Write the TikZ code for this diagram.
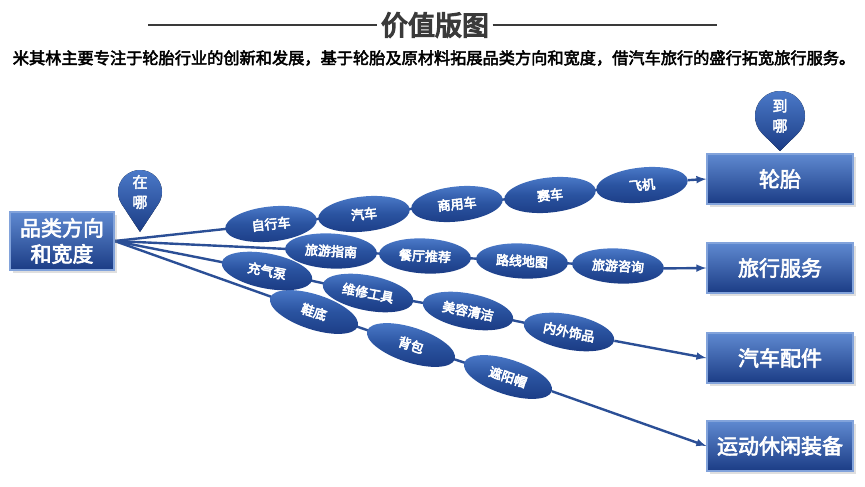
\documentclass[tikz,border=0pt]{standalone}
\usepackage{fontspec}
\setmainfont{Noto Sans CJK SC}[FakeBold=3]
\newfontfamily\heavy{Noto Sans CJK SC}[FakeBold=5]
\newfontfamily\ovalfont{Noto Sans CJK SC}[FakeBold=4]
\usetikzlibrary{shapes.geometric,backgrounds,calc,shadows}

\definecolor{deepblue}{HTML}{2A53A0}
\definecolor{lightblue}{HTML}{4D7CCB}
\definecolor{darkblue}{HTML}{1B3C85}
\definecolor{linkblue}{HTML}{2B4F96}
\definecolor{titlegray}{HTML}{3A3A3A}

\begin{document}
\begin{tikzpicture}[x=1pt,y=-1pt,
    oval/.style={ellipse,minimum width=92pt,minimum height=35pt,inner sep=0pt,
        top color=lightblue,bottom color=darkblue,middle color=deepblue,
        text=white,font=\ovalfont\fontsize{13}{14}\selectfont},
    goal/.style={rectangle,minimum width=146pt,minimum height=50pt,
        top color=lightblue!90,bottom color=darkblue,draw=lightblue!70,line width=1.2pt,
        text=white,font=\fontsize{21}{23}\selectfont,drop shadow={opacity=0.25}},
    link/.style={linkblue,line width=2.4pt},
    pin/.style={top color=lightblue,bottom color=darkblue}]

    \useasboundingbox (0,0) rectangle (865,487);

    % title and subtitle
    \node[text=titlegray,font=\heavy\fontsize{27}{29}\selectfont] (title) at (435,25) {价值版图};
    \draw[titlegray,line width=1.5pt] (148,25) -- (title.west);
    \draw[titlegray,line width=1.5pt] (title.east) -- (717,25);
    \node[font=\fontsize{16.2}{17}\selectfont] (sub) at (434,58)
        {米其林主要专注于轮胎行业的创新和发展，基于轮胎及原材料拓展品类方向和宽度，借汽车旅行的盛行拓宽旅行服务。};

    % start box
    \node[goal,minimum width=104pt,minimum height=58pt,align=center,
        font=\fontsize{21}{26}\selectfont] (start) at (62,241) {品类方向\\和宽度};

    % goal boxes
    \node[goal] (tyre) at (780,179) {轮胎};
    \node[goal] (trip) at (780,268) {旅行服务};
    \node[goal] (part) at (780,358) {汽车配件};
    \node[goal] (sport) at (780,446) {运动休闲装备};

    % the pins
    \coordinate (pinA) at (140,192);
    \fill[pin] (140,232) -- ($(pinA)+(147:22)$) arc[start angle=147,end angle=393,radius=22] -- cycle;
    \node[text=white,align=center,font=\fontsize{15}{20}\selectfont] (where) at (pinA) {在\\哪};
    \coordinate (pinB) at (780,116);
    \fill[pin] (780,151) -- ($(pinB)+(135:25)$) arc[start angle=135,end angle=405,radius=25] -- cycle;
    \node[text=white,align=center,font=\fontsize{15}{20}\selectfont] (whither) at (pinB) {到\\哪};

    % ovals, row by row
    \foreach \n/\t/\x/\y/\r in {
        d1/鞋底/314/312/-18, d2/背包/411/345/-18, d3/遮阳帽/508/377/-18,
        c1/充气泵/267/271/-11, c2/维修工具/368/293/-11, c3/美容清洁/468/311/-11, c4/内外饰品/569/332/-11,
        a1/自行车/271/224/6, a2/汽车/364/214/6, a3/商用车/457/204/6, a4/赛车/550/195/6, a5/飞机/642/185/6,
        b1/旅游指南/331/251/-3, b2/餐厅推荐/425/256/-3, b3/路线地图/522/261/-3, b4/旅游咨询/618/266/-3} {
        \node[oval,rotate=\r] (\n) at (\x,\y) {\t};
    }

    % connectors behind the ovals
    \begin{scope}[on background layer]
        \draw[link] (start.east) -- (a1.center) -- (a2.center) -- (a3.center) -- (a4.center) -- (a5.center);
        \draw[link] (start.east) -- (b1.center) -- (b2.center) -- (b3.center) -- (b4.center);
        \draw[link] (start.east) -- (c1.center) -- (c2.center) -- (c3.center) -- (c4.center);
        \draw[link] (start.east) -- (d1.center) -- (d2.center) -- (d3.center);
    \end{scope}
    \draw[link,-latex] (a5.east) -- (tyre.west);
    \draw[link,-latex] (b4.east) -- (trip.west);
    \draw[link,-latex] (c4.east) -- (part.west);
    \draw[link,-latex] (d3.east) -- (sport.west);

\end{tikzpicture}
\end{document}
